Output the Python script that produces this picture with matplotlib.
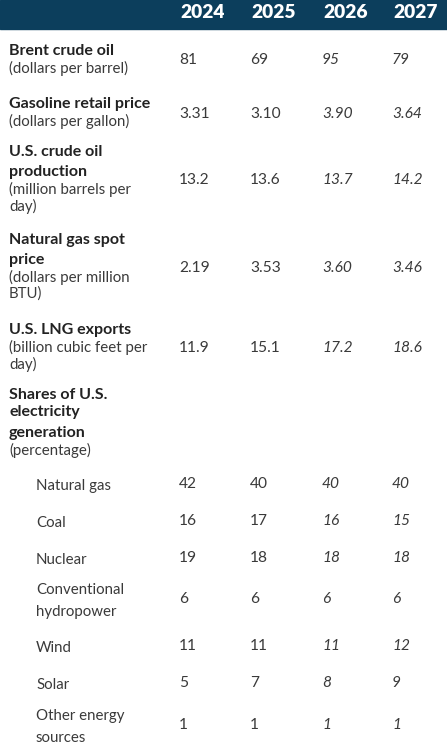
import matplotlib.pyplot as plt

plt.rcParams["font.family"] = ["Lato", "DejaVu Sans"]

years = ["2024", "2025", "2026", "2027"]
forecast = [False, False, True, True]

# main rows: bold title lines, unit lines, values per year
main_titles = [
    ["Brent crude oil"],
    ["Gasoline retail price"],
    ["U.S. crude oil", "production"],
    ["Natural gas spot", "price"],
    ["U.S. LNG exports"],
]
main_units = [
    ["(dollars per barrel)"],
    ["(dollars per gallon)"],
    ["(million barrels per", "day)"],
    ["(dollars per million", "BTU)"],
    ["(billion cubic feet per", "day)"],
]
main_values = [
    ["81", "69", "95", "79"],
    ["3.31", "3.10", "3.90", "3.64"],
    ["13.2", "13.6", "13.7", "14.2"],
    ["2.19", "3.53", "3.60", "3.46"],
    ["11.9", "15.1", "17.2", "18.6"],
]

shares_title = ["Shares of U.S.", "electricity", "generation"]
shares_unit = "(percentage)"
share_labels = [
    ["Natural gas"],
    ["Coal"],
    ["Nuclear"],
    ["Conventional", "hydropower"],
    ["Wind"],
    ["Solar"],
    ["Other energy", "sources"],
]
share_values = [
    ["42", "40", "40", "40"],
    ["16", "17", "16", "15"],
    ["19", "18", "18", "18"],
    ["6", "6", "6", "6"],
    ["11", "11", "11", "12"],
    ["5", "7", "8", "9"],
    ["1", "1", "1", "1"],
]

# layout (pixels from top)
col_x = [179, 250, 322, 392]
main_top = [51, 104, 152, 240, 330]
share_top = [486, 523, 560, 590, 648, 685, 716]
label_color = "#222222"
value_color = "#3a3a3a"
header_color = "#0c3e5c"

fig = plt.figure(figsize=(4.47, 7.52), dpi=100)
ax = fig.add_axes([0, 0, 1, 1])
ax.set_xlim(0, 447)
ax.set_ylim(752, 0)
ax.axis("off")

ax.axhspan(0, 29, color=header_color, zorder=0)
for x, yr in zip(col_x, years):
    ax.text(x + 1, 13, yr, color="white", fontsize=13.8, fontweight="heavy",
            va="center", ha="left")

bold_fs = 11.5
unit_fs = 10.8
val_fs = 11.2
bold_step = 20
unit_step = 17
for top, titles, units, vals in zip(main_top, main_titles, main_units, main_values):
    y = top
    for t in titles:
        ax.text(9, y, t, fontsize=bold_fs, fontweight="bold", color=label_color, va="center")
        y += bold_step
    y -= 3
    for u in units:
        ax.text(9, y, u, fontsize=unit_fs, color=value_color, va="center")
        y += unit_step
    mid = (top + y - unit_step) / 2
    for x, v, f in zip(col_x, vals, forecast):
        ax.text(x, mid + 1, v, fontsize=val_fs, color=value_color, va="center",
                style="italic" if f else "normal")

y = 395
for i, t in enumerate(shares_title):
    ax.text(9, y, t, fontsize=bold_fs, fontweight="bold", color=label_color, va="center")
    y += 17 if i == 0 else 21
ax.text(9, y - 4, shares_unit, fontsize=unit_fs, color=value_color, va="center")

for top, labs, vals in zip(share_top, share_labels, share_values):
    y = top
    for l in labs:
        ax.text(36, y, l, fontsize=unit_fs, color=value_color, va="center")
        y += 22
    mid = (top + y - 22) / 2 - 2
    for x, v, f in zip(col_x, vals, forecast):
        ax.text(x, mid, v, fontsize=val_fs, color=value_color, va="center",
                style="italic" if f else "normal")

fig.savefig("out.png", dpi=100)
